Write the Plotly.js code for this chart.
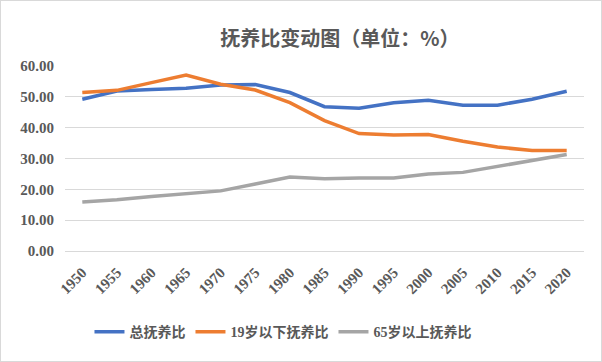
<!DOCTYPE html>
<html><head><meta charset="utf-8">
<script src="https://cdn.plot.ly/plotly-3.0.1.min.js"></script>
<style>html,body{margin:0;padding:0;background:#fff}#c{width:602px;height:362px;box-sizing:border-box;border:1px solid #d9d9d9}</style>
</head><body><div id="c"></div>
<script>
const years = ['1950','1955','1960','1965','1970','1975','1980','1985','1990','1995','2000','2005','2010','2015','2020'];
const total = [49.2,51.9,52.4,52.8,53.8,54.0,51.4,46.8,46.3,48.1,48.9,47.3,47.3,49.2,51.8];
const young = [51.4,52.1,54.6,57.1,54.1,52.2,48.1,42.3,38.1,37.6,37.8,35.6,33.7,32.6,32.6];
const old = [15.9,16.6,17.7,18.6,19.5,21.7,24.0,23.4,23.7,23.7,25.0,25.5,27.5,29.3,31.3];
const names = ['总抚养比','19岁以下抚养比','65岁以上抚养比'];
const colors = ['#4472C4','#ED7D31','#A5A5A5'];
const series = [total, young, old];
const fontFam = 'Liberation Serif, Noto Sans CJK SC, serif';
const traces = series.map((s,i)=>({x:years,y:s,name:names[i],type:'scatter',mode:'lines',
  line:{color:colors[i],width:3.5}}));
const layout = {
  width:600,height:360,
  margin:{l:64,r:17,t:65,b:110},
  paper_bgcolor:'#fff',plot_bgcolor:'#fff',
  title:{text:'<b>抚养比变动图（单位：%）</b>',x:0.565,xanchor:'center',y:0.915,
    font:{family:'Noto Sans CJK SC, serif',size:20,color:'#595959'}},
  xaxis:{type:'category',range:[-0.5,14.5],tickangle:-45,showgrid:false,showline:true,linecolor:'#d9d9d9',ticks:'',
    ticklabelstandoff:6,
    tickfont:{family:fontFam,size:15,color:'#595959',weight:'bold'}},
  yaxis:{range:[0,60],dtick:10,tickformat:'.2f',showgrid:true,gridcolor:'#d9d9d9',gridwidth:1,
    zeroline:false,showline:false,ticks:'',ticklen:0,ticklabelstandoff:10,
    tickfont:{family:fontFam,size:15,color:'#595959',weight:'bold'}},
  legend:{orientation:'h',x:0.42,xanchor:'center',yref:'container',y:0.08,yanchor:'middle',
    font:{family:fontFam,size:14,color:'#595959',weight:'bold'},itemwidth:30,tracegroupgap:0},
  showlegend:true
};
Plotly.newPlot('c',traces,layout,{displayModeBar:false,staticPlot:true});
</script></body></html>
